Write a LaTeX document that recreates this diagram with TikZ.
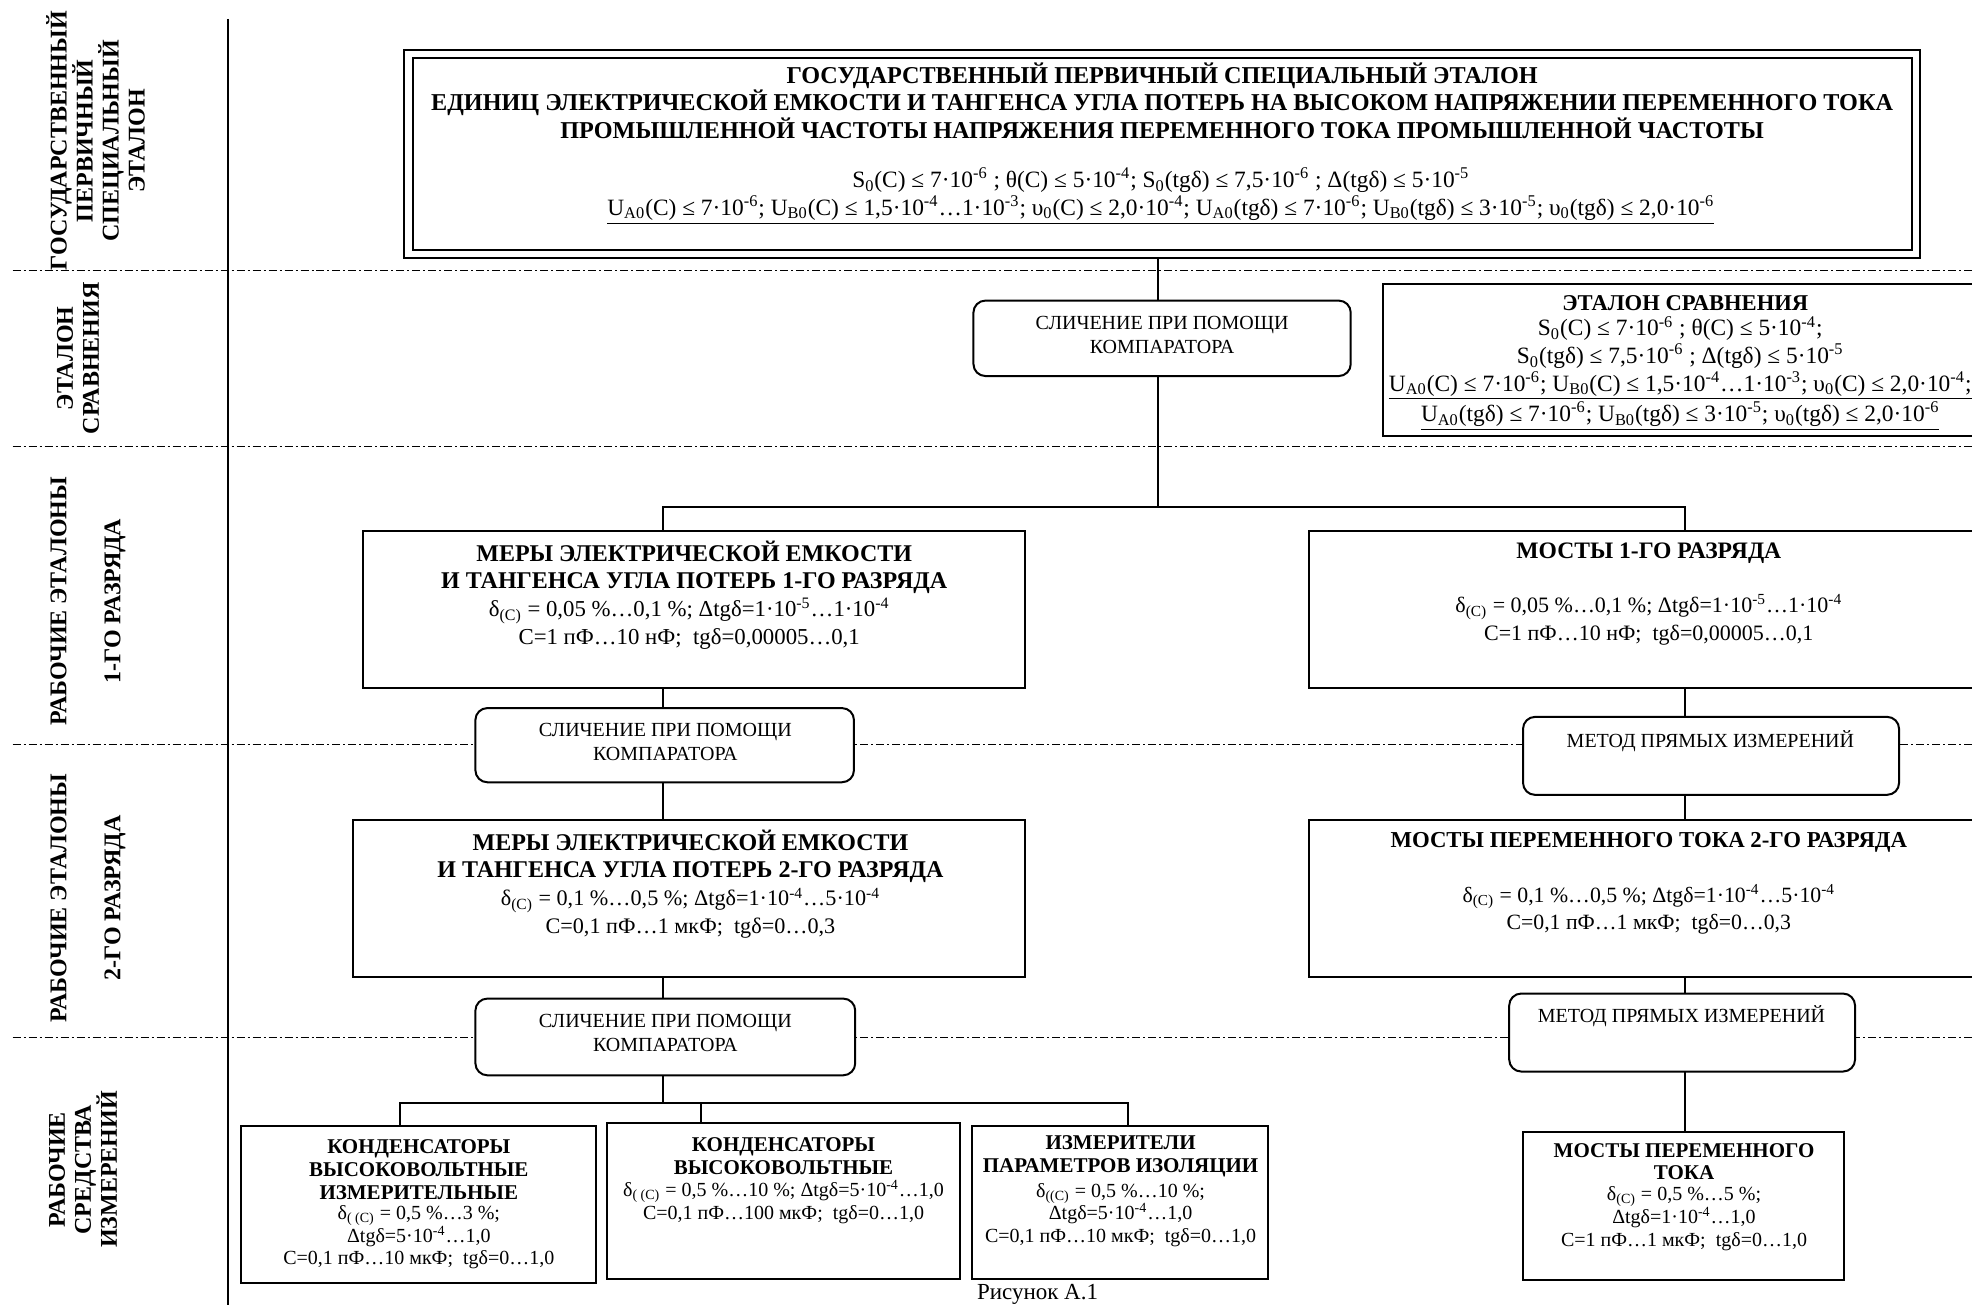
\documentclass[tikz,border=0pt]{standalone}
\usepackage{fontspec}
\setmainfont{Liberation Serif}
\newcommand\tsp[1]{\textsuperscript{#1}}
\newcommand\tsb[1]{\textsubscript{#1}}
\begin{document}
\begin{tikzpicture}[x=0.629pt,y=-0.629pt,
  ttl/.style={font=\bfseries\fontsize{12.1}{13.8}\selectfont, align=center, inner sep=0},
  btl/.style={font=\bfseries\fontsize{12}{13.8}\selectfont, align=center, inner sep=0},
  txt/.style={font=\fontsize{11.7}{13.8}\selectfont, align=center, inner sep=0},
  ptx/.style={font=\fontsize{11.1}{13.8}\selectfont, align=center, inner sep=0},
  cmp/.style={font=\fontsize{10}{12}\selectfont, align=center, inner sep=0},
  sttl/.style={font=\bfseries\fontsize{10.5}{11.3}\selectfont, align=center, inner sep=0},
  stxt/.style={font=\fontsize{10}{11.3}\selectfont, align=center, inner sep=0},
  side/.style={font=\bfseries\fontsize{12}{13}\selectfont, align=center, rotate=90, inner sep=0},
  box/.style={draw, line width=1pt, fill=white, inner sep=0, outer sep=0},
  rbox/.style={box, rounded corners=6pt},
  conn/.style={line width=0.9pt},
  zone/.style={line width=0.8pt, dash pattern=on 4pt off 1.5pt on 1pt off 1.5pt}]
\useasboundingbox (0,0) rectangle (1568,1037.6);
% zone lines
\draw[zone] (10,215) coordinate (z1a) -- (1568,215) coordinate (z1b);
\draw[zone] (10,355) coordinate (z2a) -- (1568,355) coordinate (z2b);
\draw[zone] (10,592) coordinate (z3a) -- (1568,592) coordinate (z3b);
\draw[zone] (10,825) coordinate (z4a) -- (1568,825) coordinate (z4b);
\draw[conn] (181,15) coordinate (va) -- (181,1040) coordinate (vb);
% side labels
\node[side] (s1) at (76,112) {ГОСУДАРСТВЕННЫЙ\\ПЕРВИЧНЫЙ\\СПЕЦИАЛЬНЫЙ\\ЭТАЛОН};
\node[side] (s2) at (62,285) {ЭТАЛОН\\СРАВНЕНИЯ};
\node[side] (s3) at (70,478) {РАБОЧИЕ ЭТАЛОНЫ\\[14pt]1-ГО РАЗРЯДА};
\node[side] (s4) at (70,714) {РАБОЧИЕ ЭТАЛОНЫ\\[14pt]2-ГО РАЗРЯДА};
\node[side] (s5) at (66,930) {РАБОЧИЕ\\СРЕДСТВА\\ИЗМЕРЕНИЙ};
% state primary standard
\node[box, minimum width={1206*0.629pt}, minimum height={165*0.629pt}] (top) at (924,122.5) {};
\node[draw, line width=1pt, inner sep=0, minimum width={1192*0.629pt}, minimum height={153*0.629pt}] (topin) at (924,122.5) {};
\node[ttl] (toptitle) at (924,80) {ГОСУДАРСТВЕННЫЙ ПЕРВИЧНЫЙ СПЕЦИАЛЬНЫЙ ЭТАЛОН\\ЕДИНИЦ ЭЛЕКТРИЧЕСКОЙ ЕМКОСТИ И ТАНГЕНСА УГЛА ПОТЕРЬ НА ВЫСОКОМ НАПРЯЖЕНИИ ПЕРЕМЕННОГО ТОКА\\ПРОМЫШЛЕННОЙ ЧАСТОТЫ НАПРЯЖЕНИЯ ПЕРЕМЕННОГО ТОКА ПРОМЫШЛЕННОЙ ЧАСТОТЫ};
\node[txt] (topform) at (923,156) {S\tsb{0}(C) ≤ 7·10\tsp{-6} ; θ(C) ≤ 5·10\tsp{-4}; S\tsb{0}(tgδ) ≤ 7,5·10\tsp{-6} ; Δ(tgδ) ≤ 5·10\tsp{-5}\\\underline{U\tsb{A0}(C) ≤ 7·10\tsp{-6}; U\tsb{B0}(C) ≤ 1,5·10\tsp{-4}…1·10\tsp{-3}; υ\tsb{0}(C) ≤ 2,0·10\tsp{-4}; U\tsb{A0}(tgδ) ≤ 7·10\tsp{-6}; U\tsb{B0}(tgδ) ≤ 3·10\tsp{-5}; υ\tsb{0}(tgδ) ≤ 2,0·10\tsp{-6}}};
% comparison level
\node[rbox, minimum width={300*0.629pt}, minimum height={60*0.629pt}] (cmp1) at (924,269) {};
\node[cmp] (cmp1t) at (924,266) {СЛИЧЕНИЕ ПРИ ПОМОЩИ\\КОМПАРАТОРА};
\node[box, minimum width={500*0.629pt}, minimum height={121*0.629pt}] (etc) at (1350,286.5) {};
\node[btl, font=\bfseries\fontsize{11.3}{13.8}\selectfont] (etct) at (1340,241) {ЭТАЛОН СРАВНЕНИЯ};
\node[txt] (etcf) at (1336,297) {S\tsb{0}(C) ≤ 7·10\tsp{-6} ; θ(C) ≤ 5·10\tsp{-4};\\S\tsb{0}(tgδ) ≤ 7,5·10\tsp{-6} ; Δ(tgδ) ≤ 5·10\tsp{-5}\\\underline{U\tsb{A0}(C) ≤ 7·10\tsp{-6}; U\tsb{B0}(C) ≤ 1,5·10\tsp{-4}…1·10\tsp{-3}; υ\tsb{0}(C) ≤ 2,0·10\tsp{-4};}\\\underline{U\tsb{A0}(tgδ) ≤ 7·10\tsp{-6}; U\tsb{B0}(tgδ) ≤ 3·10\tsp{-5}; υ\tsb{0}(tgδ) ≤ 2,0·10\tsp{-6}}};
% level 1
\node[box, minimum width={526*0.629pt}, minimum height={125*0.629pt}] (m1) at (552,484.5) {};
\node[btl] (m1t) at (552,451) {МЕРЫ ЭЛЕКТРИЧЕСКОЙ ЕМКОСТИ\\И ТАНГЕНСА УГЛА ПОТЕРЬ 1-ГО РАЗРЯДА};
\node[ptx, font=\fontsize{11.4}{13.8}\selectfont] (m1f) at (548,496) {δ\tsb{(C)} = 0,05 \%…0,1 \%; Δtgδ=1·10\tsp{-5}…1·10\tsp{-4}\\C=1 пФ…10 нФ;\ \ tgδ=0,00005…0,1};
\node[box, minimum width={559*0.629pt}, minimum height={125*0.629pt}] (b1) at (1320.5,484.5) {};
\node[btl, font=\bfseries\fontsize{11.8}{13.8}\selectfont] (b1t) at (1311,440) {МОСТЫ 1-ГО РАЗРЯДА};
\node[ptx, font=\fontsize{11}{13.8}\selectfont] (b1f) at (1311,493) {δ\tsb{(C)} = 0,05 \%…0,1 \%; Δtgδ=1·10\tsp{-5}…1·10\tsp{-4}\\C=1 пФ…10 нФ;\ \ tgδ=0,00005…0,1};
\node[rbox, minimum width={301*0.629pt}, minimum height={59*0.629pt}] (cmp2) at (528.5,592.5) {};
\node[cmp] (cmp2t) at (529,590) {СЛИЧЕНИЕ ПРИ ПОМОЩИ\\КОМПАРАТОРА};
\node[rbox, minimum width={299*0.629pt}, minimum height={62*0.629pt}] (met1) at (1360.5,601) {};
\node[cmp] (met1t) at (1360,589) {МЕТОД ПРЯМЫХ ИЗМЕРЕНИЙ};
% level 2
\node[box, minimum width={534*0.629pt}, minimum height={125*0.629pt}] (m2) at (548,714.5) {};
\node[btl] (m2t) at (549,681) {МЕРЫ ЭЛЕКТРИЧЕСКОЙ ЕМКОСТИ\\И ТАНГЕНСА УГЛА ПОТЕРЬ 2-ГО РАЗРЯДА};
\node[ptx] (m2f) at (549,726) {δ\tsb{(C)} = 0,1 \%…0,5 \%; Δtgδ=1·10\tsp{-4}…5·10\tsp{-4}\\C=0,1 пФ…1 мкФ;\ \ tgδ=0…0,3};
\node[box, minimum width={559*0.629pt}, minimum height={125*0.629pt}] (b2) at (1320.5,714.5) {};
\node[btl, font=\bfseries\fontsize{11.4}{13.8}\selectfont] (b2t) at (1311,670) {МОСТЫ ПЕРЕМЕННОГО ТОКА 2-ГО РАЗРЯДА};
\node[ptx, font=\fontsize{10.9}{13.8}\selectfont] (b2f) at (1311,723) {δ\tsb{(C)} = 0,1 \%…0,5 \%; Δtgδ=1·10\tsp{-4}…5·10\tsp{-4}\\C=0,1 пФ…1 мкФ;\ \ tgδ=0…0,3};
\node[rbox, minimum width={302*0.629pt}, minimum height={61*0.629pt}] (cmp3) at (529,824.5) {};
\node[cmp] (cmp3t) at (529,821) {СЛИЧЕНИЕ ПРИ ПОМОЩИ\\КОМПАРАТОРА};
\node[rbox, minimum width={275*0.629pt}, minimum height={62*0.629pt}] (met2) at (1337.5,821) {};
\node[cmp] (met2t) at (1337,808) {МЕТОД ПРЯМЫХ ИЗМЕРЕНИЙ};
% working instruments
\node[box, minimum width={282*0.629pt}, minimum height={125*0.629pt}] (w1) at (333,957.5) {};
\node[sttl] (w1t) at (333,930) {КОНДЕНСАТОРЫ\\ВЫСОКОВОЛЬТНЫЕ\\ИЗМЕРИТЕЛЬНЫЕ};
\node[stxt] (w1f) at (333,984) {δ\tsb{( (C)} = 0,5 \%…3 \%;\\Δtgδ=5·10\tsp{-4}…1,0\\C=0,1 пФ…10 мкФ;\ \ tgδ=0…1,0};
\node[box, minimum width={280*0.629pt}, minimum height={124*0.629pt}] (w2) at (623,955) {};
\node[sttl] (w2t) at (623,919.5) {КОНДЕНСАТОРЫ\\ВЫСОКОВОЛЬТНЫЕ};
\node[stxt] (w2f) at (623,955.5) {δ\tsb{( (C)} = 0,5 \%…10 \%; Δtgδ=5·10\tsp{-4}…1,0\\C=0,1 пФ…100 мкФ;\ \ tgδ=0…1,0};
\node[box, minimum width={235*0.629pt}, minimum height={122*0.629pt}] (w3) at (890.5,956) {};
\node[sttl] (w3t) at (891,919.5) {ИЗМЕРИТЕЛИ\\ПАРАМЕТРОВ ИЗОЛЯЦИИ};
\node[stxt] (w3f) at (891,966) {δ\tsb{((C)} = 0,5 \%…10 \%;\\Δtgδ=5·10\tsp{-4}…1,0\\C=0,1 пФ…10 мкФ;\ \ tgδ=0…1,0};
\node[box, minimum width={255*0.629pt}, minimum height={118*0.629pt}] (w4) at (1338.5,959) {};
\node[sttl] (w4t) at (1339,923.5) {МОСТЫ ПЕРЕМЕННОГО\\ТОКА};
\node[stxt] (w4f) at (1339,969) {δ\tsb{(C)} = 0,5 \%…5 \%;\\Δtgδ=1·10\tsp{-4}…1,0\\C=1 пФ…1 мкФ;\ \ tgδ=0…1,0};
\node[font=\fontsize{11.5}{12}\selectfont, inner sep=0] (cap) at (825,1029.5) {Рисунок А.1};
% connectors
\draw[conn] (top.south -| 921,0) -- (cmp1.north -| 921,0);
\draw[conn] (cmp1.south -| 921,0) -- (921,403) coordinate (j1);
\draw[conn] (m1.north -| 527,0) -- (527,403) -- (1340,403) -- (b1.north -| 1340,0);
\draw[conn] (m1.south -| 527,0) -- (cmp2.north -| 527,0);
\draw[conn] (cmp2.south -| 527,0) -- (m2.north -| 527,0);
\draw[conn] (b1.south -| 1340,0) -- (met1.north -| 1340,0);
\draw[conn] (met1.south -| 1340,0) -- (b2.north -| 1340,0);
\draw[conn] (m2.south -| 527,0) -- (cmp3.north -| 527,0);
\draw[conn] (cmp3.south -| 527,0) -- (527,877) coordinate (j2);
\draw[conn] (w1.north -| 318,0) -- (318,877) -- (897,877) -- (w3.north -| 897,0);
\draw[conn] (557.5,877) -- (w2.north -| 557.5,0);
\draw[conn] (b2.south -| 1340,0) -- (met2.north -| 1340,0);
\draw[conn] (met2.south -| 1340,0) -- (w4.north -| 1340,0);
\end{tikzpicture}
\end{document}
